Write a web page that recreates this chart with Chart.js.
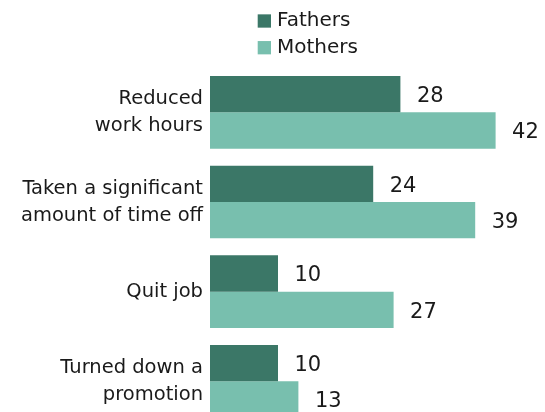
<!DOCTYPE html>
<html>
<head>
<meta charset="utf-8">
<script src="https://cdn.jsdelivr.net/npm/chart.js@4.4.1/dist/chart.umd.min.js"></script>
<style>
  html, body { margin: 0; padding: 0; background: #fff; overflow: hidden; }
  #wrap { width: 545px; height: 432px; }
</style>
</head>
<body>
<div id="wrap"><canvas id="c" width="545" height="432"></canvas></div>
<script>
const categories = [
  ["Reduced", "work hours"],
  ["Taken a significant", "amount of time off"],
  ["Quit job"],
  ["Turned down a", "promotion"]
];
const seriesNames = ["Fathers", "Mothers"];
const fathers = [28, 24, 10, 10];
const mothers = [42, 39, 27, 13];
const seriesColors = ["#3b7767", "#78bfae"];
const textColor = "#1a1a1a";
const FONT = "'DejaVu Sans', sans-serif";

const valueLabels = {
  id: 'valueLabels',
  afterDatasetsDraw(chart) {
    const ctx = chart.ctx;
    ctx.save();
    ctx.font = "21px " + FONT;
    ctx.fillStyle = textColor;
    ctx.textAlign = 'left';
    ctx.textBaseline = 'middle';
    chart.data.datasets.forEach((ds, di) => {
      const meta = chart.getDatasetMeta(di);
      meta.data.forEach((el, i) => {
        ctx.fillText(String(ds.data[i]), el.x + 16.5, el.y + 2.5);
      });
    });
    ctx.restore();
  }
};

const customLegend = {
  id: 'customLegend',
  afterDraw(chart) {
    const ctx = chart.ctx;
    ctx.save();
    ctx.font = "20px " + FONT;
    ctx.textAlign = 'left';
    ctx.textBaseline = 'middle';
    const x0 = 257.7, y0 = 21, rowH = 26.7, box = 13.3;
    chart.data.datasets.forEach((ds, i) => {
      const cy = y0 + i * rowH;
      ctx.fillStyle = ds.backgroundColor;
      ctx.fillRect(x0, cy - box / 2, box, box);
      ctx.fillStyle = textColor;
      ctx.fillText(ds.label, x0 + box + 6, cy);
    });
    ctx.restore();
  }
};

new Chart(document.getElementById('c'), {
  type: 'bar',
  data: {
    labels: categories,
    datasets: [
      { label: seriesNames[0], data: fathers, backgroundColor: seriesColors[0] },
      { label: seriesNames[1], data: mothers, backgroundColor: seriesColors[1] }
    ]
  },
  options: {
    indexAxis: 'y',
    responsive: false,
    animation: false,
    devicePixelRatio: 1,
    categoryPercentage: 0.81,
    barPercentage: 1.0,
    layout: { padding: { top: 67.5, bottom: 5.8, right: 29, left: 0 } },
    plugins: {
      legend: { display: false },
      tooltip: { enabled: false }
    },
    scales: {
      x: { display: false, min: 0, max: 45 },
      y: {
        grid: { display: false, drawTicks: false },
        border: { display: false },
        afterFit(scale) {
          scale.width = 210;
          scale.paddingTop = 0;
          scale.paddingBottom = 0;
        },
        ticks: {
          color: textColor,
          padding: 7,
          font: { family: FONT, size: 19.5, lineHeight: 1.38 }
        }
      }
    }
  },
  plugins: [valueLabels, customLegend]
});
</script>
</body>
</html>
